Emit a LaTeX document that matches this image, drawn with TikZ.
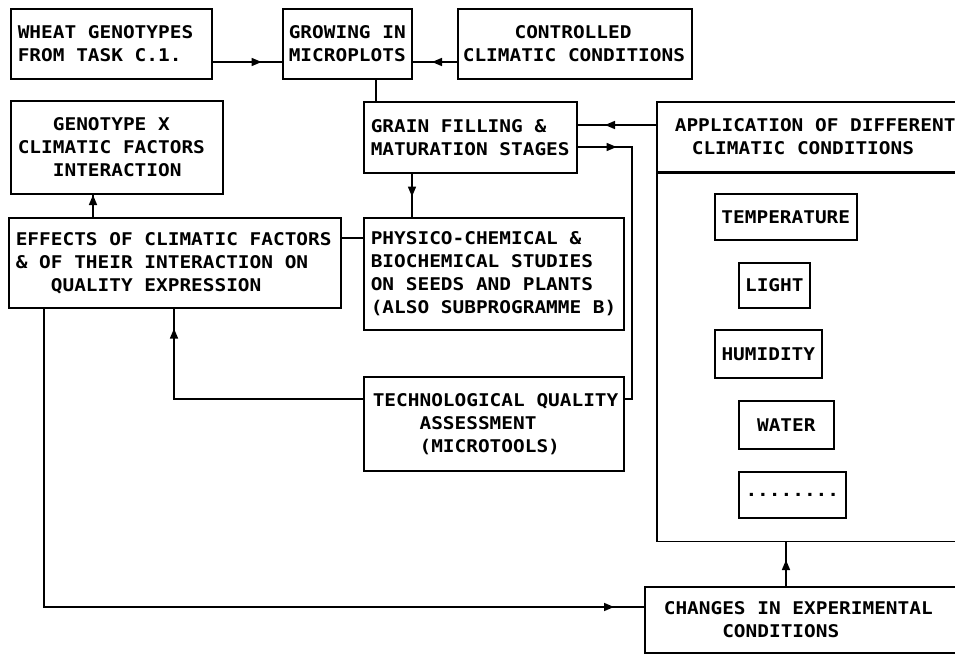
\documentclass[tikz,border=0pt]{standalone}
\usepackage{fontspec}
\newfontfamily\plt{DejaVu Sans Mono}[FakeStretch=1.11]
\usetikzlibrary{arrows.meta,decorations.markings}
\newlength\pltsp
\newcommand\oneline[1]{\mbox{\spaceskip=\pltsp\relax\xspaceskip=\pltsp\relax #1}}
\DeclareRobustCommand\pltfont{\plt\bfseries\fontsize{17.5}{23}\selectfont
  \settowidth\pltsp{X}}
\tikzset{
  bx/.style={draw, line width=1.6pt, inner ysep=0pt, anchor=north west, align=left,
    font=\pltfont},
  smallbx/.style={bx, align=center, inner xsep=0pt},
  ln/.style={line width=1.6pt},
  arr/.style={postaction={decorate, decoration={markings,
    mark=at position #1 with {\arrow{Triangle[length=10pt,width=8pt]}}}}},
}
\begin{document}
\begin{tikzpicture}[x=1pt,y=-1pt]
\useasboundingbox (0,0) rectangle (955,653);
% boxes
\node[bx, inner xsep=7pt, text width=187pt, minimum height=70pt] (wheat) at (10,8)
  {\oneline{WHEAT GENOTYPES}\\\oneline{FROM TASK C.1.}};
\node[bx, inner xsep=6pt, text width=117pt, minimum height=70pt] (grow) at (282,8)
  {\oneline{GROWING IN}\\\oneline{MICROPLOTS}};
\node[bx, inner xsep=5pt, text width=224pt, minimum height=70pt] (ctrl) at (457,8)
  {\oneline{\hphantom{XXXX}\kern5pt CONTROLLED}\\\oneline{CLIMATIC CONDITIONS}};
\node[bx, inner xsep=7pt, text width=198pt, minimum height=93pt] (geno) at (10,100)
  {\oneline{\hphantom{XXX}GENOTYPE X}\\\oneline{CLIMATIC FACTORS}\\\oneline{\hphantom{XXX}INTERACTION}};
\node[bx, inner xsep=7pt, text width=199pt, minimum height=71pt] (grain) at (363,101)
  {\oneline{GRAIN FILLING \&}\\\oneline{MATURATION STAGES}};
\node[bx, inner xsep=18pt, text width=300pt, minimum height=70pt] (appl) at (656,101)
  {\oneline{APPLICATION OF DIFFERENT}\\\oneline{\hspace*{17pt}CLIMATIC CONDITIONS}};
\node[draw, line width=1.6pt, anchor=north west, inner sep=0pt, minimum width=336pt, minimum height=368pt] (applbody) at (appl.south west) {};
\node[bx, inner xsep=7pt, text width=318pt, minimum height=90pt] (effects) at (8,217)
  {\oneline{EFFECTS OF CLIMATIC FACTORS}\\\oneline{\& OF THEIR INTERACTION ON}\\\oneline{\hphantom{XXX}QUALITY EXPRESSION}};
\node[bx, inner xsep=7pt, text width=246pt, minimum height=112pt] (physico) at (363,217)
  {\oneline{PHYSICO-CHEMICAL \&}\\\oneline{BIOCHEMICAL STUDIES}\\\oneline{ON SEEDS AND PLANTS}\\\oneline{(ALSO SUBPROGRAMME B)}};
\node[bx, inner xsep=9pt, text width=242pt, minimum height=94pt] (tech) at (363,376)
  {\oneline{TECHNOLOGICAL QUALITY}\\\oneline{\hphantom{XXXX}ASSESSMENT}\\\oneline{\hphantom{XXXX}(MICROTOOLS)}};
\node[bx, inner xsep=19pt, text width=300pt, minimum height=66pt] (changes) at (644,586)
  {\oneline{CHANGES IN EXPERIMENTAL}\\\oneline{\hphantom{XXXXX}CONDITIONS}};
% factor boxes
\node[smallbx, minimum width=142pt, minimum height=46pt] (temp) at (714,193) {TEMPERATURE};
\node[smallbx, minimum width=71pt, minimum height=45pt] (light) at (738,262) {LIGHT};
\node[smallbx, minimum width=107pt, minimum height=48pt] (hum) at (714,329) {HUMIDITY};
\node[smallbx, minimum width=95pt, minimum height=48pt] (water) at (738,400) {WATER};
\node[smallbx, minimum width=107pt, minimum height=46pt] (dots) at (738,471) {........};
% helper coordinates
\coordinate (y62) at (0,62);
\coordinate (y125) at (0,125);
\coordinate (y147) at (0,147);
\coordinate (y238) at (0,238);
\coordinate (y399) at (0,399);
\coordinate (y607) at (0,607);
\coordinate (x44) at (44,0);
\coordinate (x93) at (93,0);
\coordinate (x174) at (174,0);
\coordinate (x376) at (376,0);
\coordinate (x412) at (412,0);
\coordinate (x632) at (632,0);
\coordinate (x786) at (786,0);
% connectors
\draw[ln, arr=49pt] (wheat.east |- y62) -- (grow.west |- y62);
\draw[ln, arr=25pt] (ctrl.west |- y62) -- (grow.east |- y62);
\draw[ln] (grow.south -| x376) -- (grain.north -| x376);
\draw[ln, arr=51pt] (appl.west |- y125) -- (grain.east |- y125);
\draw[ln, arr=39pt] (grain.east |- y147) -| (x632 |- y399) -- (tech.east |- y399);
\draw[ln, arr=23pt] (grain.south -| x412) -- (physico.north -| x412);
\draw[ln] (effects.east |- y238) -- (physico.west |- y238);
\draw[ln, arr=22pt] (effects.north -| x93) -- (geno.south -| x93);
\draw[ln, arr=-20pt] (tech.west |- y399) -| (effects.south -| x174);
\draw[ln, arr=-30pt] (effects.south -| x44) |- (changes.west |- y607);
\draw[ln, arr=26pt] (changes.north -| x786) -- (applbody.south -| x786);
\end{tikzpicture}
\end{document}
